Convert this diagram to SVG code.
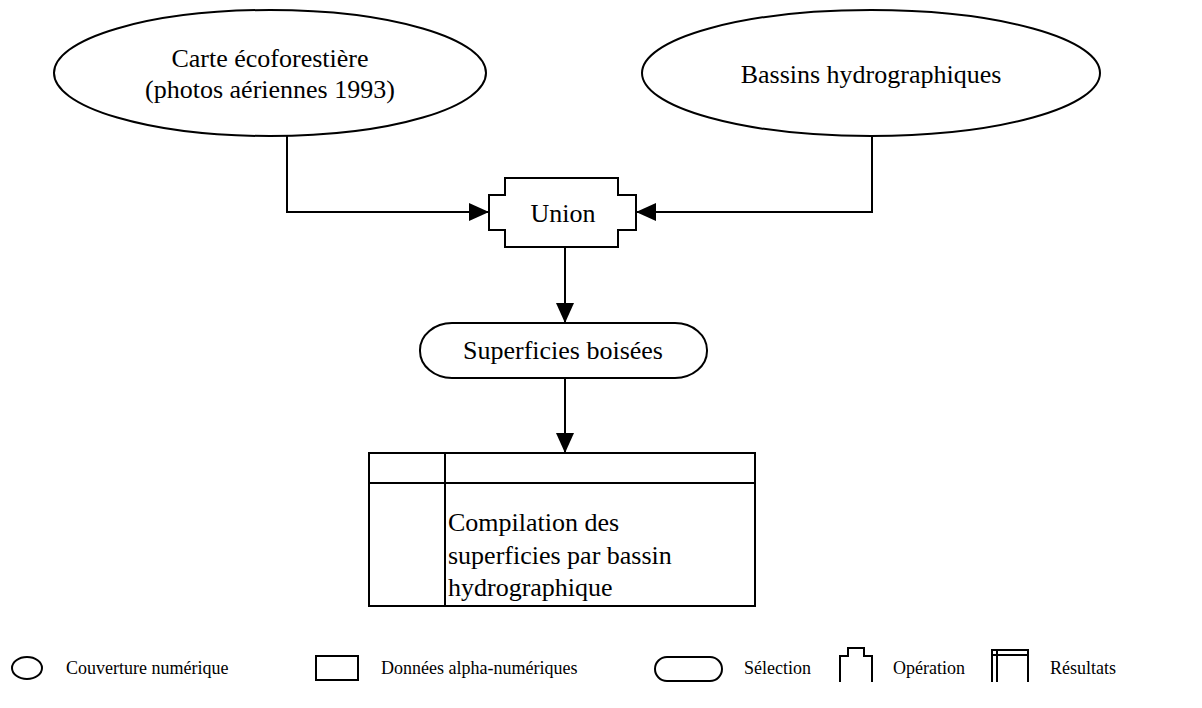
<svg xmlns="http://www.w3.org/2000/svg" width="1202" height="708" viewBox="0 0 1202 708">
  <style>
    .shape { fill: #ffffff; stroke: #000000; stroke-width: 2; }
    .icon { fill: none; stroke: #000000; stroke-width: 2; }
    .wire { fill: none; stroke: #000000; stroke-width: 2; }
    .lbl { font-family: "Liberation Serif", "Times New Roman", serif; font-size: 26px; fill: #000000; }
    .mid { text-anchor: middle; }
    .key { font-family: "Liberation Serif", "Times New Roman", serif; font-size: 18px; fill: #000000; }
  </style>
  <defs>
    <marker id="head" viewBox="0 0 20 20" refX="20" refY="10" markerWidth="20" markerHeight="20" markerUnits="userSpaceOnUse" orient="auto">
      <path d="M0,1 L20,10 L0,19 Z" fill="#000000"/>
    </marker>
  </defs>

  <!-- connectors -->
  <g id="connectors">
    <path class="wire" d="M287,136 V212 H489" marker-end="url(#head)"/>
    <path class="wire" d="M872,136 V212 H636" marker-end="url(#head)"/>
    <path class="wire" d="M565,247 V323" marker-end="url(#head)"/>
    <path class="wire" d="M565,378 V453" marker-end="url(#head)"/>
  </g>

  <!-- source layers -->
  <g id="carte">
    <ellipse class="shape" cx="270" cy="73" rx="216" ry="63"/>
    <text class="lbl mid" x="270" y="67">Carte écoforestière</text>
    <text class="lbl mid" x="270" y="98">(photos aériennes 1993)</text>
  </g>
  <g id="bassins">
    <ellipse class="shape" cx="871" cy="73" rx="229" ry="63"/>
    <text class="lbl mid" x="871" y="83">Bassins hydrographiques</text>
  </g>

  <!-- operation -->
  <g id="union">
    <path class="shape" d="M505,178 H618 V195 H636 V230 H618 V247 H505 V230 H489 V195 H505 Z"/>
    <text class="lbl mid" x="563" y="222">Union</text>
  </g>

  <!-- selection -->
  <g id="superficies">
    <rect class="shape" x="420" y="323" width="287" height="55" rx="32" ry="27"/>
    <text class="lbl mid" x="563" y="359">Superficies boisées</text>
  </g>

  <!-- result table -->
  <g id="compilation">
    <rect class="shape" x="369" y="453" width="386" height="153"/>
    <line class="wire" x1="369" y1="483" x2="755" y2="483"/>
    <line class="wire" x1="445" y1="453" x2="445" y2="606"/>
    <text class="lbl" x="448" y="531">Compilation des</text>
    <text class="lbl" x="448" y="564">superficies par bassin</text>
    <text class="lbl" x="448" y="596">hydrographique</text>
  </g>

  <!-- legend -->
  <g id="legend">
    <ellipse class="icon" cx="27" cy="668" rx="15" ry="11"/>
    <text class="key" x="66" y="674">Couverture numérique</text>
    <rect class="icon" x="316" y="656" width="42" height="24"/>
    <text class="key" x="381" y="674">Données alpha-numériques</text>
    <rect class="icon" x="655" y="657" width="67" height="24" rx="12" ry="12"/>
    <text class="key" x="744" y="674">Sélection</text>
    <path class="icon" d="M840,682 V656 H848 V648 H864 V656 H872 V682"/>
    <text class="key" x="893" y="674">Opération</text>
    <path class="icon" d="M992,682 V650 H1028 V682 M992,655 H1028 M997,650 V682"/>
    <text class="key" x="1050" y="674">Résultats</text>
  </g>
</svg>
